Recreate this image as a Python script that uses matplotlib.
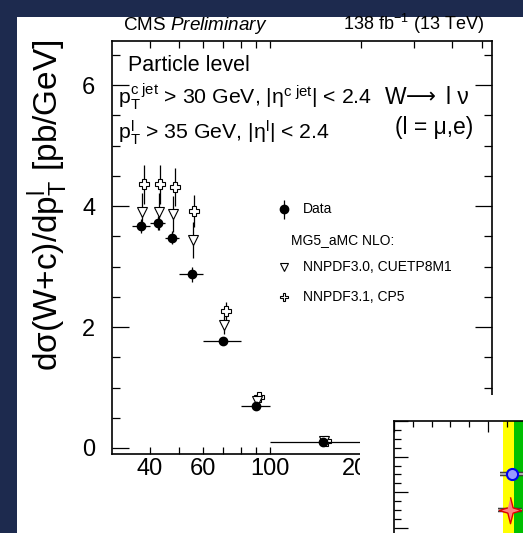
import matplotlib
matplotlib.use('Agg')
import matplotlib.pyplot as plt
from matplotlib.patches import Rectangle
import numpy as np

plt.rcParams['font.family'] = ['Liberation Sans', 'DejaVu Sans']
plt.rcParams['mathtext.fontset'] = 'custom'
plt.rcParams['mathtext.rm'] = 'Liberation Sans'
plt.rcParams['mathtext.it'] = 'Liberation Sans:italic'
plt.rcParams['mathtext.bf'] = 'Liberation Sans:bold'

# lepton pT bins [GeV] and cross sections [pb/GeV]
bin_edges = [35, 40, 45, 50, 60, 80, 100, 200]
data_vals = [3.67, 3.72, 3.48, 2.87, 1.77, 0.69, 0.10]
data_errs = [0.11, 0.11, 0.11, 0.12, 0.06, 0.04, 0.01]
nnpdf30_vals = [3.91, 3.91, 3.87, 3.44, 2.03, 0.78, 0.11]
nnpdf30_errs = [0.30, 0.30, 0.29, 0.30, 0.15, 0.05, 0.01]
nnpdf31_vals = [4.36, 4.36, 4.32, 3.92, 2.27, 0.85, 0.11]
nnpdf31_errs = [0.32, 0.32, 0.31, 0.26, 0.15, 0.05, 0.01]

# second plot peeking in at the bottom right
inset_vals = [1.252, 1.234]
inset_errs = [0.124, 0.128]
inset_rows = [10, 6]
band_center = 1.5
band_1sigma = 0.22
band_2sigma = 0.344

W, H = 523, 533
fig = plt.figure(figsize=(W / 100, H / 100), dpi=100, facecolor='#1d2a4e')


def px_axes(l, t, r, b, **kw):
    return fig.add_axes([l / W, 1 - b / H, (r - l) / W, (b - t) / H], **kw)


def px(x, y):
    return x / W, 1 - y / H


# white slide panel
fig.add_artist(Rectangle(px(17, H), (W - 17) / W, (H - 17) / H,
                         transform=fig.transFigure, facecolor='white',
                         edgecolor='none', zorder=-5))

ax = px_axes(112, 40.5, 491.7, 454)
ax.set_facecolor('white')

edges = np.array(bin_edges, dtype=float)
centers = 0.5 * (edges[1:] + edges[:-1])
half = 0.5 * (edges[1:] - edges[:-1])

ax.errorbar(centers * 1.02, nnpdf31_vals, yerr=nnpdf31_errs, fmt='P', ms=6.5,
            mfc='white', mec='black', mew=0.8, color='black', elinewidth=0.9,
            capsize=0, zorder=3)
ax.errorbar(centers * 1.008, nnpdf30_vals, yerr=nnpdf30_errs, fmt='v', ms=6.5,
            mfc='white', mec='black', mew=0.8, color='black', elinewidth=0.9,
            capsize=0, zorder=4)
ax.errorbar(centers, data_vals, xerr=half, yerr=data_errs, fmt='o', ms=6,
            color='black', elinewidth=0.9, capsize=0, zorder=5)

ax.set_xscale('log')
ax.set_xlim(30, 540)
ax.set_ylim(-0.1, 6.74)
ax.set_xticks([40, 60, 100, 200])
ax.set_xticklabels(['40', '60', '100', '200'])
ax.set_xticks([50, 70, 80, 90, 300, 400, 500], minor=True)
ax.set_yticks([0, 2, 4, 6])
ax.set_yticks(np.arange(0, 6.75, 0.5), minor=True)
ax.tick_params(axis='x', which='both', direction='in', top=True, length=5,
               width=0.9, labelsize=17, pad=3)
ax.tick_params(axis='y', which='major', direction='in', right=True, length=12,
               width=0.9, labelsize=17, pad=12)
ax.tick_params(axis='y', which='minor', direction='in', right=True, length=6,
               width=0.9)
for s in ax.spines.values():
    s.set_linewidth(1.2)

# legend drawn by hand like the ROOT TLegend
lx, tx = 0.453, 0.502
ax.errorbar([lx], [0.592], yerr=[0.023], fmt='o', ms=6, color='black',
            elinewidth=0.9, capsize=0, transform=ax.transAxes, clip_on=False)
ax.plot([lx], [0.4515], 'v', ms=6, mfc='white', mec='black', mew=0.8,
        transform=ax.transAxes)
ax.plot([lx], [0.379], 'P', ms=6, mfc='white', mec='black', mew=0.8,
        transform=ax.transAxes)
ax.text(tx, 0.592, 'Data', transform=ax.transAxes, fontsize=10, va='center')
ax.text(0.471, 0.5175, 'MG5_aMC NLO:', transform=ax.transAxes, fontsize=10,
        va='center')
ax.text(tx, 0.4515, 'NNPDF3.0, CUETP8M1', transform=ax.transAxes,
        fontsize=10, va='center')
ax.text(tx, 0.379, 'NNPDF3.1, CP5', transform=ax.transAxes, fontsize=10,
        va='center')

# text inside and above the frame
fig.text(*px(122.7, 30.5), r'CMS $\mathit{Preliminary}$', fontsize=13.6,
         va='baseline')
fig.text(*px(484, 30.5), r'138 fb$^{-1}$ (13 TeV)', fontsize=13,
         va='baseline', ha='right')
fig.text(*px(127.7, 71), 'Particle level', fontsize=15.5, va='baseline')
fig.text(*px(118, 104),
         r'p$_\mathrm{T}^\mathrm{c\ jet}$ > 30 GeV, |η$^\mathrm{c\ jet}$| < 2.4',
         fontsize=15.3, va='baseline')
fig.text(*px(118, 139),
         r'p$_\mathrm{T}^\mathrm{l}$ > 35 GeV, |η$^\mathrm{l}$| < 2.4',
         fontsize=15.3, va='baseline')
fig.text(*px(385, 104), 'W', fontsize=16.5, va='baseline')
fig.text(*px(406, 103), '⟶', fontsize=15, va='baseline',
         family='DejaVu Sans')
fig.text(*px(446, 104), 'l ν', fontsize=16.5, va='baseline')
fig.text(*px(473, 134), '(l = μ,e)', fontsize=16.5, va='baseline', ha='right')
fig.text(*px(48, 205), r'dσ(W+c)/dp$_\mathrm{T}^\mathrm{l}$ [pb/GeV]',
         fontsize=24, rotation=90, ha='center', va='center')

# white patch of the overlapping plot
fig.add_artist(Rectangle(px(360, H), (W - 360) / W, (H - 395) / H,
                         transform=fig.transFigure, facecolor='white',
                         edgecolor='none', zorder=2))

ins = px_axes(394, 421, 600, 563.4, zorder=3)
ins.set_facecolor('white')
ins.axvspan(band_center - band_2sigma, band_center + band_2sigma,
            color='#ffff00', lw=0)
ins.axvspan(band_center - band_1sigma, band_center + band_1sigma,
            color='#00c000', lw=0)
ins.errorbar(inset_vals, inset_rows, xerr=inset_errs, fmt='none',
             ecolor='#333333', elinewidth=3.2, capsize=0)
ins.errorbar(inset_vals, inset_rows, xerr=inset_errs, fmt='none',
             ecolor='#aaaaaa', elinewidth=1.6, capsize=0)
ins.plot(inset_vals[0], inset_rows[0], 'o', ms=8, mfc='#9999ff',
         mec='#0000ee', mew=1.5)
star = [(0, 1), (0.2, 0.2), (0.85, 0), (0.2, -0.2), (0, -1), (-0.2, -0.2),
        (-0.85, 0), (-0.2, 0.2)]
ins.plot(inset_vals[1], inset_rows[1], marker=star, ms=19, mfc='#ff8080',
         mec='#dd0000', mew=1.0, ls='none')
ins.set_xlim(0, 206 / 94)
ins.set_ylim(0, 16)
ins.set_xticks([0, 1, 2])
ins.set_xticks(np.arange(0, 2.2, 0.2), minor=True)
ins.set_yticks([0, 4, 8, 12, 16])
ins.set_yticks(np.arange(0, 16.1, 1), minor=True)
ins.tick_params(axis='x', which='both', direction='in', bottom=False,
                top=True, labelbottom=False)
ins.tick_params(axis='x', which='major', length=8, width=0.9)
ins.tick_params(axis='x', which='minor', length=4, width=0.9)
ins.tick_params(axis='y', which='major', direction='in', length=10,
                width=0.9, labelleft=False)
ins.tick_params(axis='y', which='minor', direction='in', length=5,
                width=0.9)
for s in ins.spines.values():
    s.set_linewidth(1.2)

fig.savefig('out.png', dpi=100, facecolor=fig.get_facecolor())
